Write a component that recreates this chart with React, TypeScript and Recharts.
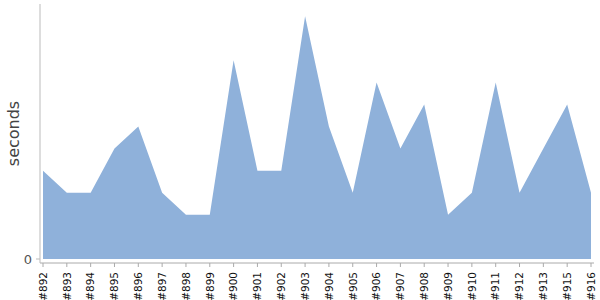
import { AreaChart, Area, XAxis, YAxis } from "recharts";

const builds = [
  "#892", "#893", "#894", "#895", "#896", "#897", "#898", "#899",
  "#900", "#901", "#902", "#903", "#904", "#905", "#906", "#907",
  "#908", "#909", "#910", "#911", "#912", "#913", "#915", "#916",
];

const seconds = [
  4, 3, 3, 5, 6, 3, 2, 2,
  9, 4, 4, 11, 6, 3, 8, 5,
  7, 2, 3, 8, 3, 5, 7, 3,
];

const data = builds.map((name, i) => ({ name, value: seconds[i] }));

const font = "'DejaVu Sans', Verdana, sans-serif";

const BuildTick = (props: any) => {
  const { x, y, payload } = props;
  return (
    <g transform={`translate(${x},${y})`}>
      <text
        transform="rotate(-90)"
        x={-1}
        y={0}
        dy="0.36em"
        textAnchor="end"
        fontSize={10.5}
        fontFamily={font}
        fill="#111"
      >
        {payload.value}
      </text>
    </g>
  );
};

const App = () => {
  return (
    <div style={{ position: "absolute", left: 0, top: 0 }}>
      <AreaChart
        width={600}
        height={300}
        data={data}
        margin={{ top: 4, right: 6, left: 0, bottom: 0 }}
      >
        <XAxis
          dataKey="name"
          interval={0}
          height={37}
          padding={{ left: 3, right: 3 }}
          tick={<BuildTick />}
          tickSize={4}
          tickMargin={4}
          stroke="#aaa"
        />
        <YAxis
          width={40}
          domain={[0, 11.55]}
          ticks={[0]}
          padding={{ bottom: 4 }}
          tickSize={4}
          tickMargin={4}
          stroke="#bbb"
          tick={{ fill: "#555", fontSize: 13, fontFamily: font }}
          label={{
            value: "seconds",
            angle: -90,
            position: "center",
            dx: -7,
            style: { fill: "#444", fontSize: 16, fontFamily: font },
          }}
        />
        <Area
          type="linear"
          dataKey="value"
          fill="#8fb1da"
          fillOpacity={1}
          stroke="none"
          isAnimationActive={false}
        />
      </AreaChart>
    </div>
  );
};

export default App;
